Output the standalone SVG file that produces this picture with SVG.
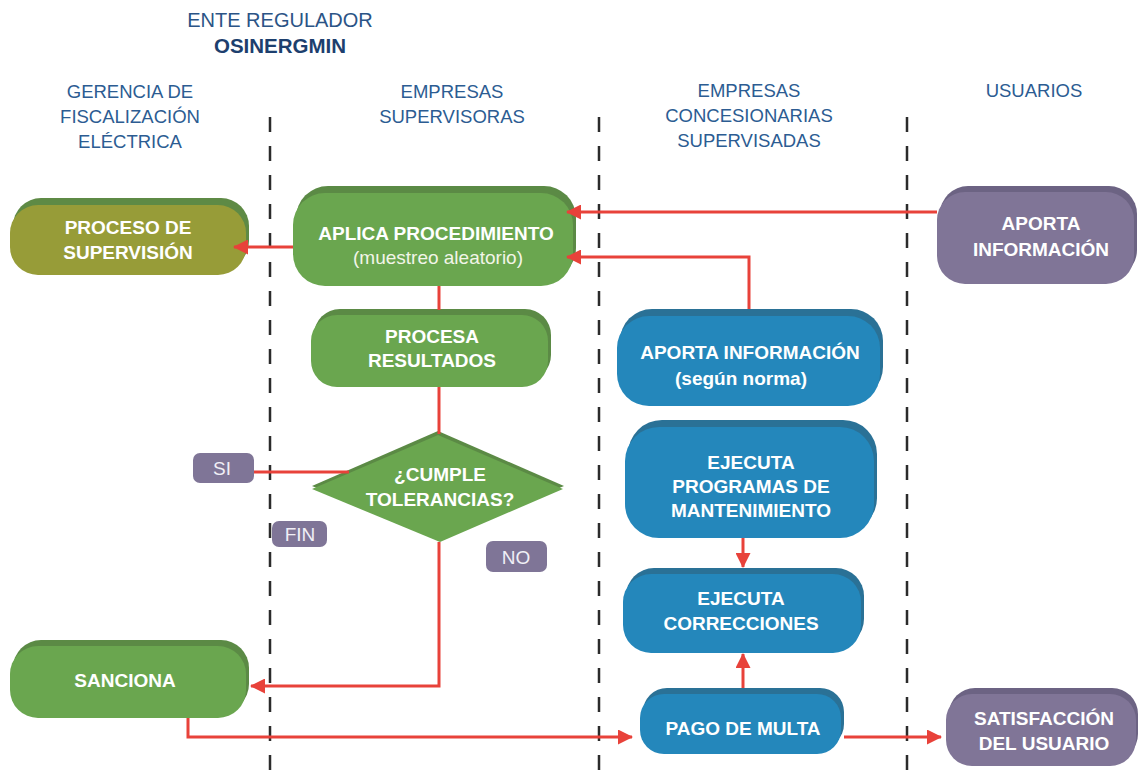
<svg xmlns="http://www.w3.org/2000/svg" width="1138" height="776" viewBox="0 0 1138 776">
<defs>
<style>
.hdr{font-family:"Liberation Sans",Arial,sans-serif;font-size:18.5px;fill:#2c5c92;text-anchor:middle}
.ttl{font-family:"Liberation Sans",Arial,sans-serif;font-size:20px;fill:#2b5486;text-anchor:middle}
.ttlb{font-family:"Liberation Sans",Arial,sans-serif;font-size:20.5px;font-weight:bold;fill:#1d3f6e;text-anchor:middle}
.nt{font-family:"Liberation Sans",Arial,sans-serif;font-size:19px;font-weight:bold;fill:#ffffff;text-anchor:middle}
.ntn{font-family:"Liberation Sans",Arial,sans-serif;font-size:19px;fill:#f2f5e8;text-anchor:middle}
.lt{font-family:"Liberation Sans",Arial,sans-serif;font-size:19px;fill:#f0eff6;text-anchor:middle}
.lane{stroke:#2b2b2b;stroke-width:2.5;stroke-dasharray:15 14;fill:none}
.con{stroke:#e8423a;stroke-width:3;fill:none}
.gb{fill:#5b8a45}.gf{fill:#6aa64f}
.ob{fill:#5e8a45}.of{fill:#979c38}
.bb{fill:#2a7196}.bf{fill:#2487bb}
.pb{fill:#6c6383}.pf{fill:#807597}
.lbl{fill:#7f7597}
</style>
<marker id="arr" markerUnits="userSpaceOnUse" markerWidth="15" markerHeight="15" refX="14" refY="7.5" orient="auto">
<path d="M0,0 L15,7.5 L0,15 Z" fill="#e8423a"/>
</marker>
</defs>

<g id="headers">
<text class="ttl" x="280" y="27">ENTE REGULADOR</text>
<text class="ttlb" x="280" y="53">OSINERGMIN</text>
<text class="hdr" x="130" y="98">GERENCIA DE</text>
<text class="hdr" x="130" y="123">FISCALIZACIÓN</text>
<text class="hdr" x="130" y="148">ELÉCTRICA</text>
<text class="hdr" x="452" y="98">EMPRESAS</text>
<text class="hdr" x="452" y="123">SUPERVISORAS</text>
<text class="hdr" x="749" y="97">EMPRESAS</text>
<text class="hdr" x="749" y="122">CONCESIONARIAS</text>
<text class="hdr" x="749" y="147">SUPERVISADAS</text>
<text class="hdr" x="1034" y="97">USUARIOS</text>
</g>

<g id="lanes">
<line class="lane" x1="270" y1="117" x2="270" y2="776"/>
<line class="lane" x1="599" y1="117" x2="599" y2="776"/>
<line class="lane" x1="907" y1="117" x2="907" y2="776"/>
</g>

<g id="proceso-supervision">
<rect class="ob" x="13" y="198" width="236" height="71" rx="28"/>
<rect class="of" x="10" y="205" width="236" height="70" rx="28"/>
<text class="nt" x="128" y="234">PROCESO DE</text>
<text class="nt" x="128" y="259">SUPERVISIÓN</text>
</g>

<g id="aplica-procedimiento">
<rect class="gb" x="296" y="186" width="280" height="94" rx="32"/>
<rect class="gf" x="293" y="193" width="280" height="93" rx="32"/>
<text class="nt" x="436" y="240">APLICA PROCEDIMIENTO</text>
<text class="ntn" x="438" y="264">(muestreo aleatorio)</text>
</g>

<g id="procesa-resultados">
<rect class="gb" x="314" y="309" width="237" height="72" rx="26"/>
<rect class="gf" x="311" y="315" width="237" height="72" rx="26"/>
<text class="nt" x="432" y="343">PROCESA</text>
<text class="nt" x="432" y="367">RESULTADOS</text>
</g>

<g id="cumple-tolerancias">
<polygon points="438,431 564,486 440,538 312,486" fill="#5b8a45"/>
<polygon points="438,435 563,489 440,542 312,489" fill="#6aa64f"/>
<text class="nt" x="440" y="481">¿CUMPLE</text>
<text class="nt" x="440" y="506">TOLERANCIAS?</text>
</g>

<g id="si">
<rect class="lbl" x="193" y="453" width="61" height="30" rx="7"/>
<text class="lt" x="222" y="475">SI</text>
</g>
<g id="fin">
<rect class="lbl" x="272" y="521" width="55" height="26" rx="7"/>
<text class="lt" x="300" y="541">FIN</text>
</g>
<g id="no">
<rect class="lbl" x="486" y="541" width="61" height="31" rx="7"/>
<text class="lt" x="516" y="564">NO</text>
</g>

<g id="sanciona">
<rect class="gb" x="13" y="640" width="236" height="72" rx="28"/>
<rect class="gf" x="10" y="646" width="236" height="72" rx="28"/>
<text class="nt" x="125" y="687">SANCIONA</text>
</g>

<g id="aporta-informacion-norma">
<rect class="bb" x="620" y="309" width="263" height="90" rx="32"/>
<rect class="bf" x="617" y="316" width="263" height="90" rx="32"/>
<text class="nt" x="750" y="359">APORTA INFORMACIÓN</text>
<text class="nt" x="741" y="385">(según norma)</text>
</g>

<g id="ejecuta-programas">
<rect class="bb" x="628" y="420" width="249" height="112" rx="34"/>
<rect class="bf" x="625" y="427" width="249" height="111" rx="34"/>
<text class="nt" x="751" y="469">EJECUTA</text>
<text class="nt" x="751" y="493">PROGRAMAS DE</text>
<text class="nt" x="751" y="517">MANTENIMIENTO</text>
</g>

<g id="ejecuta-correcciones">
<rect class="bb" x="626" y="568" width="238" height="79" rx="28"/>
<rect class="bf" x="623" y="574" width="238" height="79" rx="28"/>
<text class="nt" x="741" y="605">EJECUTA</text>
<text class="nt" x="741" y="630">CORRECCIONES</text>
</g>

<g id="pago-multa">
<rect class="bb" x="643" y="688" width="201" height="60" rx="24"/>
<rect class="bf" x="640" y="694" width="201" height="60" rx="24"/>
<text class="nt" x="743" y="735">PAGO DE MULTA</text>
</g>

<g id="aporta-informacion-usuarios">
<rect class="pb" x="940" y="186" width="197" height="92" rx="28"/>
<rect class="pf" x="937" y="192" width="197" height="92" rx="28"/>
<text class="nt" x="1041" y="230">APORTA</text>
<text class="nt" x="1041" y="256">INFORMACIÓN</text>
</g>

<g id="satisfaccion-usuario">
<rect class="pb" x="949" y="688" width="189" height="72" rx="26"/>
<rect class="pf" x="946" y="694" width="190" height="72" rx="26"/>
<text class="nt" x="1044" y="725">SATISFACCIÓN</text>
<text class="nt" x="1044" y="750">DEL USUARIO</text>
</g>

<g id="connectors">
<path class="con" d="M937,212 H567" marker-end="url(#arr)"/>
<path class="con" d="M749,309 V257 H567" marker-end="url(#arr)"/>
<path class="con" d="M293,247 H234" marker-end="url(#arr)"/>
<path class="con" d="M439,286 V310"/>
<path class="con" d="M439,387 V434"/>
<path class="con" d="M254,472 H349"/>
<path class="con" d="M439,542 V686 H251" marker-end="url(#arr)"/>
<path class="con" d="M188,718 V737 H632" marker-end="url(#arr)"/>
<path class="con" d="M743,688 V654" marker-end="url(#arr)"/>
<path class="con" d="M743,538 V567" marker-end="url(#arr)"/>
<path class="con" d="M844,737 H941" marker-end="url(#arr)"/>
</g>
</svg>
